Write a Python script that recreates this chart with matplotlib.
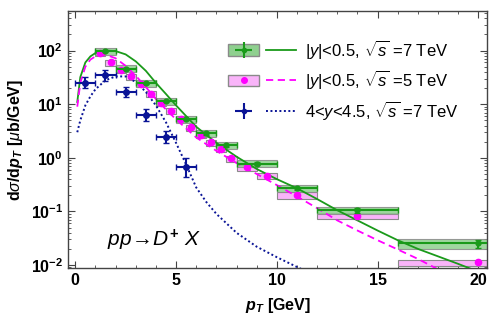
import numpy as np
import matplotlib
matplotlib.use("Agg")
import matplotlib.pyplot as plt
from matplotlib.patches import Patch
from matplotlib.lines import Line2D
from matplotlib.legend_handler import HandlerTuple
from matplotlib.ticker import FuncFormatter, LogLocator, MultipleLocator

plt.rcParams['font.family'] = ['Liberation Sans', 'DejaVu Sans']
plt.rcParams['mathtext.fontset'] = 'custom'
plt.rcParams['mathtext.rm'] = 'Liberation Sans:bold'
plt.rcParams['mathtext.it'] = 'Liberation Sans:italic'
plt.rcParams['mathtext.bf'] = 'Liberation Sans:bold:italic'

# ALICE |y|<0.5, sqrt(s)=7 TeV
g_lo = [1, 2, 3, 4, 5, 6, 7, 8, 10, 12, 16]
g_hi = [2, 3, 4, 5, 6, 7, 8, 10, 12, 16, 24]
g_val = [98, 46, 24.4, 11.3, 5.2, 2.85, 1.72, 0.78, 0.268, 0.106, 0.0253]
g_stat = [0.04, 0.04, 0.04, 0.04, 0.04, 0.05, 0.06, 0.06, 0.08, 0.10, 0.18]
g_syst = [0.15, 0.15, 0.15, 0.15, 0.15, 0.15, 0.15, 0.15, 0.15, 0.15, 0.20]

# ALICE |y|<0.5, sqrt(s)=5 TeV
m_lo = [1, 1.5, 2, 2.5, 3, 3.5, 4, 4.5, 5, 5.5, 6, 6.5, 7, 7.5, 8, 9, 10, 12, 16]
m_hi = [1.5, 2, 2.5, 3, 3.5, 4, 4.5, 5, 5.5, 6, 6.5, 7, 7.5, 8, 9, 10, 12, 16, 24]
m_val = [92, 60, 44, 33, 24, 15.7, 10.7, 7.6, 5.3, 3.7, 2.65, 1.94, 1.45, 0.975,
         0.66, 0.46, 0.20, 0.083, 0.0112]
m_syst = 0.13

# LHCb 4<y<4.5, sqrt(s)=7 TeV
b_x = [0.5, 1.5, 2.5, 3.5, 4.5, 5.5]
b_val = [25, 34.9, 16.6, 6.26, 2.4, 0.67]
b_low = [19.7, 27, 13.4, 4.9, 1.87, 0.44]
b_high = [32.4, 43.3, 21, 8.0, 3.2, 0.98]

# theory curves
c_x = [0.1, 0.25, 0.5, 0.75, 1.0, 1.5, 2.0, 2.5, 3.0, 3.5, 4.0, 4.5, 5.0, 6.0, 7.0,
       8.0, 9.0, 10.0, 11.0, 12.0, 13.0, 14.0, 15.0, 16.0, 17.0, 18.0, 19.0, 20.0]
c_green = [11, 32, 60, 78, 90, 100, 98, 85, 63, 42, 25, 15.5, 9.5, 3.8, 1.9,
           1.05, 0.62, 0.40, 0.27, 0.17, 0.105, 0.068, 0.044, 0.029, 0.020, 0.0145,
           0.0105, 0.0075]
c_pink = [9, 25, 50, 68, 78, 84, 72, 52, 34, 21, 12.5, 8, 5.2, 2.4, 1.35,
          0.8, 0.5, 0.31, 0.19, 0.115, 0.068, 0.044, 0.029, 0.0195, 0.013, 0.0083,
          0.0055, 0.0037]
f_x = [0.1, 0.25, 0.5, 0.75, 1.0, 1.5, 2.0, 2.5, 3.0, 3.5, 4.0, 4.5, 5.0, 5.5,
       6.0, 6.5, 7.0, 7.5, 8.0, 9.0, 10.0, 11.0, 11.5]
f_blue = [3.0, 5, 9.5, 14, 19, 28, 33, 33, 26, 17, 9.5, 4.6, 1.9, 0.75,
          0.28, 0.15, 0.09, 0.06, 0.04, 0.022, 0.014, 0.0092, 0.0075]

green = '#1a9a1a'
gfill = '#8fd08f'
mag = '#ff00ff'
mfill = '#f9b4f9'
navy = '#0a1496'

fig = plt.figure(figsize=(4.91, 3.27), dpi=100)
ax = fig.add_axes([0.1385, 0.180, 0.8535, 0.787])
ax.set_yscale('log')

g_lo = np.array(g_lo); g_hi = np.array(g_hi); g_val = np.array(g_val)
m_lo = np.array(m_lo); m_hi = np.array(m_hi); m_val = np.array(m_val)

# systematic boxes
ax.bar(m_lo, m_val * 2 * m_syst, width=m_hi - m_lo, bottom=m_val * (1 - m_syst),
       align='edge', color=mfill, edgecolor='#8a8a8a', linewidth=0.8, zorder=2)
gs = np.array(g_syst)
ax.bar(g_lo, g_val * 2 * gs, width=g_hi - g_lo, bottom=g_val * (1 - gs),
       align='edge', color=gfill, edgecolor='#8a8a8a', linewidth=0.8, alpha=0.85, zorder=2)

# curves
ax.plot(c_x, c_green, color=green, lw=1.3, zorder=3)
ax.plot(c_x, c_pink, color=mag, lw=1.3, ls=(0, (4, 2.5)), zorder=3)
ax.plot(f_x, f_blue, color=navy, lw=1.4, ls=(0, (1, 1.3)), zorder=3)

# points
ax.plot((m_lo + m_hi) / 2, m_val, 'o', color=mag, ms=4.5, zorder=4)
g_x = (g_lo + g_hi) / 2
ax.errorbar(g_x, g_val, xerr=(g_hi - g_lo) / 2, yerr=g_val * np.array(g_stat),
            fmt='o', color=green, ms=3.5, lw=1.5, capsize=2.5, zorder=5)
b_val = np.array(b_val)
ax.errorbar(b_x, b_val, xerr=0.5,
            yerr=[b_val - np.array(b_low), np.array(b_high) - b_val],
            fmt='o', color=navy, ms=4, lw=1.5, capsize=2.5, zorder=5)

ax.set_xlim(-0.36, 20.43)
ax.set_ylim(0.00875, 553)
ax.set_xticks([0, 5, 10, 15, 20], ['0', '5', '10', '15', '20'], fontweight='bold', fontsize=11.5)
ax.xaxis.set_minor_locator(MultipleLocator(1))
ax.yaxis.set_major_locator(LogLocator(base=10, numticks=10))
ax.yaxis.set_minor_locator(LogLocator(base=10, subs=np.arange(2, 10), numticks=20))
ax.yaxis.set_major_formatter(FuncFormatter(lambda v, p: r'$10^{%d}$' % round(np.log10(v))))
ax.tick_params(which='both', direction='in', top=True, right=True, color='#444444')
ax.tick_params(axis='y', labelsize=11.5)
ax.tick_params(which='major', length=5)
ax.tick_params(which='minor', length=2.5)
for s in ax.spines.values():
    s.set_color('#444444')
    s.set_linewidth(1.0)

ax.set_xlabel(r'$\mathbf{p_T}$ [GeV]', fontweight='bold', fontsize=11.5, labelpad=6)
ax.set_ylabel(r'd$\sigma$/d$\mathbf{p_T}$ [$\mu$b/GeV]', fontweight='bold', fontsize=11.5, labelpad=4)

ax.text(1.55, 0.022, r'$pp\!\rightarrow\! D^{+}\ X$', fontsize=15, style='italic')

# legend: box+points, then the theory line, then the label
e1 = ax.errorbar([], [], xerr=[], yerr=[], fmt='o', color=green, ms=3, lw=1.5, capsize=2)
h1 = (Patch(facecolor=gfill, edgecolor='#8a8a8a'), e1)
h2 = (Patch(facecolor=mfill, edgecolor='#8a8a8a'),
      Line2D([], [], marker='o', ls='none', color=mag, ms=4))
h3 = ax.errorbar([], [], xerr=[], yerr=[], fmt='o', color=navy, ms=3, lw=1.5, capsize=2)
l1 = Line2D([], [], color=green, lw=1.3)
l2 = Line2D([], [], color=mag, lw=1.3, ls=(0, (4, 2.5)))
l3 = Line2D([], [], color=navy, lw=1.4, ls=(0, (1, 1.3)))
ax.legend([(h1, l1), (h2, l2), (h3, l3)],
          [r'|$y$|<0.5, $\sqrt{s}$ =7 TeV',
           r'|$y$|<0.5, $\sqrt{s}$ =5 TeV',
           r'4<$y$<4.5, $\sqrt{s}$ =7 TeV'],
          handler_map={tuple: HandlerTuple(ndivide=None, pad=0.4),
                       h1: HandlerTuple(ndivide=1), h2: HandlerTuple(ndivide=1)},
          loc='upper left', bbox_to_anchor=(0.382, 0.895), frameon=False,
          borderpad=0, borderaxespad=0,
          fontsize=12, handlelength=4.1, handletextpad=0.5, labelspacing=0.45)

fig.savefig('out.png', dpi=100)
